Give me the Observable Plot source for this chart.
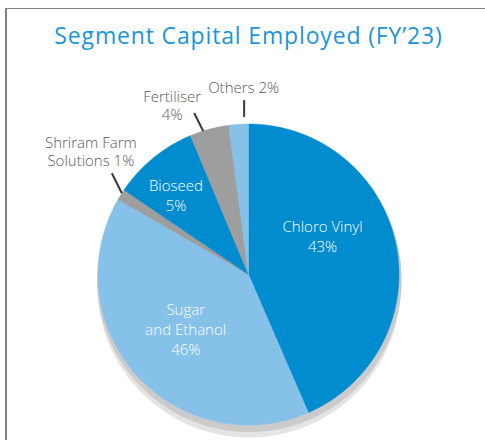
<!DOCTYPE html>
<html><head><meta charset="utf-8">
<script src="https://cdn.jsdelivr.net/npm/d3@7"></script>
<script src="https://cdn.jsdelivr.net/npm/@observablehq/plot@0.6"></script>
<style>
html,body{margin:0;padding:0;background:#fff;}
#wrap{position:relative;width:485px;height:440px;overflow:hidden;font-family:"Open Sans",sans-serif;}
#frame{position:absolute;left:5px;top:8px;width:490px;height:440px;border-top:1.5px solid #808080;border-left:2px solid #808080;}
#title{position:absolute;left:0;width:497px;top:20px;text-align:center;font-size:23px;font-weight:400;letter-spacing:0.85px;color:#1b95d5;line-height:31px;white-space:nowrap;}
#chart{position:absolute;left:0;top:0;}
</style></head>
<body><div id="wrap"><div id="frame"></div><div id="chart"></div><div id="title">Segment Capital Employed (FY’23)</div></div>
<script>
// ---- data ----
const categories = ["Chloro Vinyl", "Sugar\nand Ethanol", "Shriram Farm\nSolutions", "Bioseed", "Fertiliser", "Others"];
// share of the circle each slice occupies in the picture (%)
const shares = [43.5, 39.8, 1.2, 9.2, 4.2, 2.1];
// percentages printed on the labels
const printedPct = [43, 46, 1, 5, 4, 2];

// ---- styles / layout ----
const dark = "#008ccf", light = "#86c1e9", grey = "#9e9e9e";
const colors = [dark, light, grey, dark, grey, light];
const k = 2 / 301; // px -> data units (radius 150.5 px)

const arcs = d3.pie().sort(null).value(d => d)(shares);
const slicePts = arcs.flatMap((a, i) => {
  const n = Math.max(2, Math.ceil((a.endAngle - a.startAngle) / 0.004));
  const pts = [{i, x: 0, y: 0}];
  for (let j = 0; j <= n; j++) {
    const t = a.startAngle + (a.endAngle - a.startAngle) * j / n;
    pts.push({i, x: Math.sin(t), y: Math.cos(t)});
  }
  pts.push({i, x: 0, y: 0});
  return pts;
});
const circle = (cx, cy, r) => d3.range(0, 361).map(d => {
  const t = d * Math.PI / 180;
  return {x: cx + r * Math.sin(t), y: cy + r * Math.cos(t)};
});

const labelText = i => categories[i] + (i === 2 || i === 5 ? " " : "\n") + printedPct[i] + "%";

// inside labels: radius fraction at slice centroid + pixel nudge
const inside = [
  {i: 0, r: 0.55, dx: -7, dy: -22},
  {i: 1, r: 0.55, dx: -1, dy: -1},
  {i: 3, r: 0.72, dx: -4, dy: 4}
].map(o => {
  const a = arcs[o.i], m = (a.startAngle + a.endAngle) / 2;
  return {x: o.r * Math.sin(m) + o.dx * k, y: o.r * Math.cos(m) - o.dy * k, text: labelText(o.i)};
});

// outside labels with leaders
const outside = [
  {i: 2, at: 0.65, a: [0, 0], b: [-10, -20], t: [-31, -41.5]},
  {i: 4, at: 0.34, a: [0, 0], b: [-9, -18], t: [-31, -26]},
  {i: 5, at: 0.78, a: [0, -7], b: [0, -24], t: [-0.5, -36.6]}
].map(o => {
  const a = arcs[o.i], m = a.startAngle + (a.endAngle - a.startAngle) * o.at;
  const ex = Math.sin(m), ey = Math.cos(m);
  return {
    x1: ex + o.a[0] * k, y1: ey - o.a[1] * k,
    x2: ex + o.b[0] * k, y2: ey - o.b[1] * k,
    tx: ex + o.t[0] * k, ty: ey - o.t[1] * k,
    text: labelText(o.i)
  };
});

const chart = Plot.plot({
  width: 485, height: 440, margin: 0,
  style: {fontFamily: "'Open Sans', sans-serif", background: "transparent"},
  x: {domain: [-1, 1], range: [97.5, 398.5], axis: null},
  y: {domain: [-1, 1], range: [424.5, 123.5], axis: null},
  color: {type: "identity"},
  marks: [
    Plot.line(circle(0.004, -0.075, 1.008), {x: "x", y: "y", fill: "#e4e4e4", stroke: "none"}),
    Plot.line(circle(0.006, -0.035, 1.012), {x: "x", y: "y", fill: "#cbcbcb", stroke: "none"}),
    Plot.line(slicePts, {x: "x", y: "y", z: "i", fill: d => colors[d.i], stroke: d => colors[d.i], strokeWidth: 0.5, curve: "linear"}),
    Plot.text(inside, {x: "x", y: "y", text: "text", fill: "white", fontSize: 15, fontWeight: 300, lineHeight: 1.33}),
    Plot.link(outside, {x1: "x1", y1: "y1", x2: "x2", y2: "y2", stroke: "#3a3a3a", strokeWidth: 2}),
    Plot.text(outside, {x: "tx", y: "ty", text: "text", fill: "#595959", fontSize: 15, fontWeight: 300, lineHeight: 1.2})
  ]
});
document.getElementById("chart").appendChild(chart);
</script>
</body></html>
